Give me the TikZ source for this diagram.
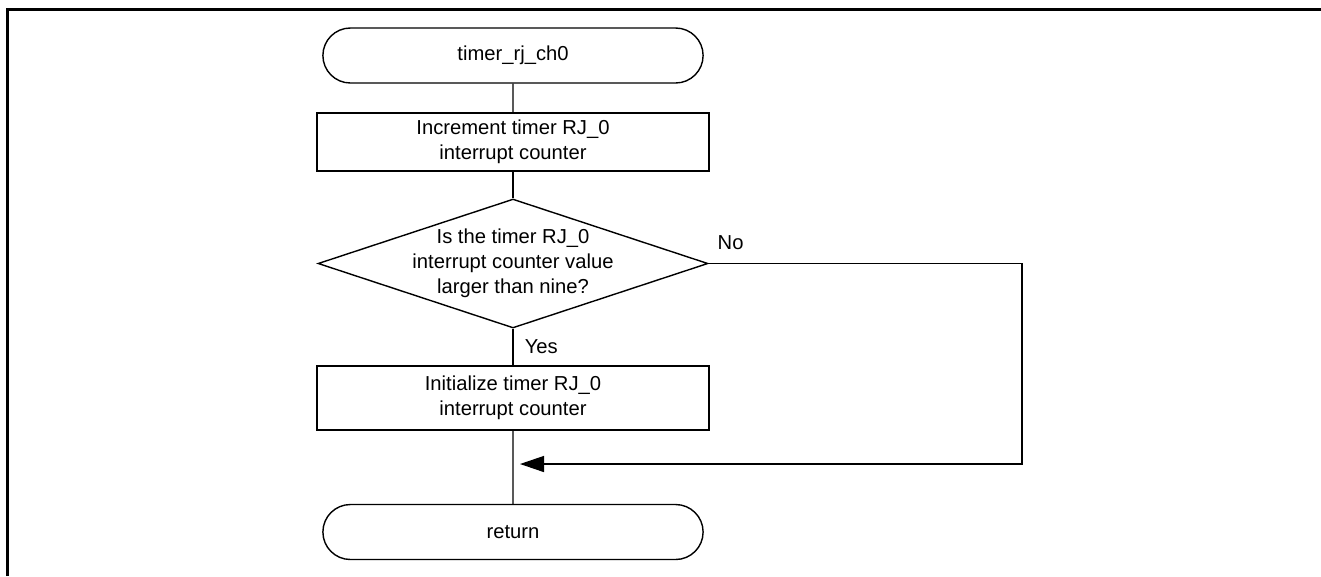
\documentclass[tikz,border=0pt]{standalone}
\usepackage{fontspec}
\setmainfont{Liberation Sans}
\usetikzlibrary{shapes.geometric,shapes.misc,arrows.meta}

\begin{document}
\begin{tikzpicture}[x=0.02cm,y=-0.02cm]
\tikzstyle{every node}=[align=center, font=\fontsize{11.5}{14.2}\selectfont]
\tikzstyle{term}=[draw, rounded rectangle, line width=0.8pt, minimum width=7.84cm, minimum height=1.1cm]
\tikzstyle{proc}=[draw, rectangle, line width=0.8pt, minimum width=7.84cm]
\tikzstyle{decide}=[draw, diamond, line width=0.8pt, shape aspect=3, inner sep=-2.5pt, minimum width=7.8cm, minimum height=2.58cm]
\tikzstyle{flow}=[line width=0.8pt]
\useasboundingbox (0,0) rectangle (1321,576);
% outer frame (only top and left are visible)
\draw[line width=1.7pt] (7.5,576) -- (7.5,9.5) -- (1321,9.5);

\node[term] (start) at (513,55.5) {timer\_rj\_ch0};
\node[proc, minimum height=1.16cm] (inc) at (513,142) {Increment timer RJ\_0\\interrupt counter};
\node[decide] (chk) at (513,263.5) {Is the timer RJ\_0\\interrupt counter value\\larger than nine?};
\node[proc, minimum height=1.28cm] (init) at (513,398) {Initialize timer RJ\_0\\interrupt counter};
\node[term] (ret) at (513,532) {return};
\coordinate (merge) at (520,464);

\draw [flow] (start) -- (inc);
\draw [flow] (inc) -- (chk);
\draw [flow] (chk) -- node[pos=0.5, right=3pt]{Yes} (init);
\draw [flow] (init) -- (ret);
\draw [flow][-{Triangle[length=0.48cm,width=0.32cm]}] (chk.east) -- (1022,263.5) node[pos=0.07, above=4pt]{No} |- (merge);
\end{tikzpicture}
\end{document}
